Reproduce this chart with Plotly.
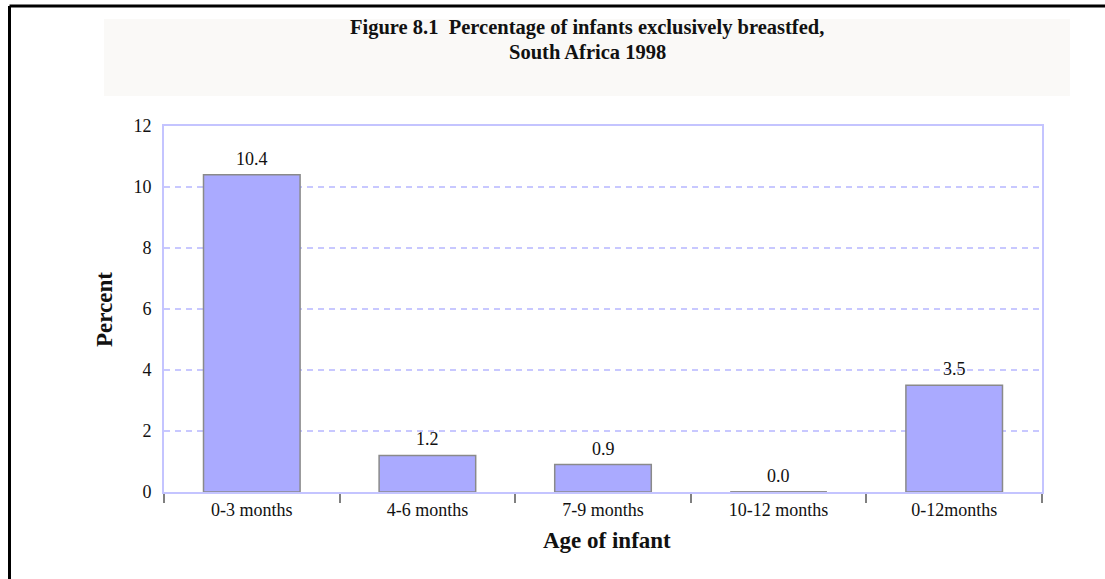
import plotly.graph_objects as go

categories = ["0-3 months", "4-6 months", "7-9 months", "10-12 months", "0-12months"]
percent = [10.4, 1.2, 0.9, 0.0, 3.5]
y_ticks = [0, 2, 4, 6, 8, 10, 12]

title_line1 = "Figure 8.1  Percentage of infants exclusively breastfed,"
title_line2 = "South Africa 1998"
x_title = "Age of infant"
y_title = "Percent"

FONT = "Liberation Serif, Times New Roman, serif"
W, H = 1105, 579
L, R, T, B = 164, 63, 126, 87
PW, PH = W - L - R, H - T - B


def px_x(x):
    return (x - L) / PW


def px_y(y):
    return (H - B - y) / PH


BAR_W = 0.55

fig = go.Figure()
fig.add_trace(go.Bar(
    x=categories,
    y=percent,
    width=BAR_W,
    marker=dict(color="#aaaaff", line=dict(color="#8a8a8a", width=1.5)),
    cliponaxis=False,
    hoverinfo="x+y",
))

shapes = [
    # title background
    dict(type="rect", xref="paper", yref="paper",
         x0=px_x(104), x1=px_x(1070), y0=px_y(96), y1=px_y(19),
         fillcolor="#faf9f7", line=dict(width=0), layer="below"),
    # black frame (top and left)
    dict(type="line", xref="paper", yref="paper",
         x0=px_x(9.5), x1=px_x(1110), y0=px_y(6), y1=px_y(6),
         line=dict(color="black", width=3)),
    dict(type="line", xref="paper", yref="paper",
         x0=px_x(9.5), x1=px_x(9.5), y0=px_y(6), y1=px_y(585),
         line=dict(color="black", width=3)),
]
# outline of zero-height bars
for i, v in enumerate(percent):
    if v == 0:
        shapes.append(dict(type="line", xref="x", yref="y",
                           x0=i - BAR_W / 2, x1=i + BAR_W / 2, y0=v, y1=v,
                           line=dict(color="#8a8a8a", width=1.5)))

annotations = [
    dict(text=f"<b>{title_line1}</b>", xref="paper", yref="paper",
         x=px_x(587), y=px_y(27), xanchor="center", yanchor="middle", showarrow=False,
         font=dict(family=FONT, size=20.5, color="#111111")),
    dict(text=f"<b>{title_line2}</b>", xref="paper", yref="paper",
         x=px_x(587), y=px_y(52), xanchor="center", yanchor="middle", showarrow=False,
         font=dict(family=FONT, size=20.5, color="#111111")),
    dict(text=f"<b>{x_title}</b>", xref="paper", yref="paper",
         x=px_x(607), y=px_y(540), xanchor="center", yanchor="middle", showarrow=False,
         font=dict(family=FONT, size=23, color="#111111")),
    dict(text=f"<b>{y_title}</b>", xref="paper", yref="paper",
         x=px_x(104), y=px_y(310), xanchor="center", yanchor="middle",
         showarrow=False, textangle=-90,
         font=dict(family=FONT, size=23, color="#111111")),
]
# value labels above bars
for c, v in zip(categories, percent):
    annotations.append(dict(
        text=f"{v:.1f}", x=c, y=v, xref="x", yref="y",
        xanchor="center", yanchor="bottom", yshift=4, showarrow=False,
        font=dict(family=FONT, size=18, color="#111111")))

fig.update_layout(
    width=W, height=H,
    margin=dict(l=L, r=R, t=T, b=B),
    paper_bgcolor="white",
    plot_bgcolor="white",
    showlegend=False,
    shapes=shapes,
    annotations=annotations,
    bargap=0.45,
)
fig.update_xaxes(
    type="category",
    tickson="boundaries",
    ticks="outside", ticklen=9, tickcolor="#808080", tickwidth=1.5,
    showline=True, linecolor="#c4c4ff", linewidth=2, mirror=True,
    showgrid=False,
    tickfont=dict(family=FONT, size=18, color="#111111"),
)
fig.update_yaxes(
    range=[0, 12], tickvals=y_ticks, ticktext=[str(t) for t in y_ticks],
    showline=True, linecolor="#c4c4ff", linewidth=2, mirror=True,
    showgrid=True, gridcolor="#c8c8ff", gridwidth=1.5, griddash="6px,5px",
    zeroline=False,
    ticks="", ticklabelstandoff=7,
    tickfont=dict(family=FONT, size=18, color="#111111"),
)

fig.write_html("out.html", config={"displayModeBar": False},
               post_script="document.body.style.margin='0';")
